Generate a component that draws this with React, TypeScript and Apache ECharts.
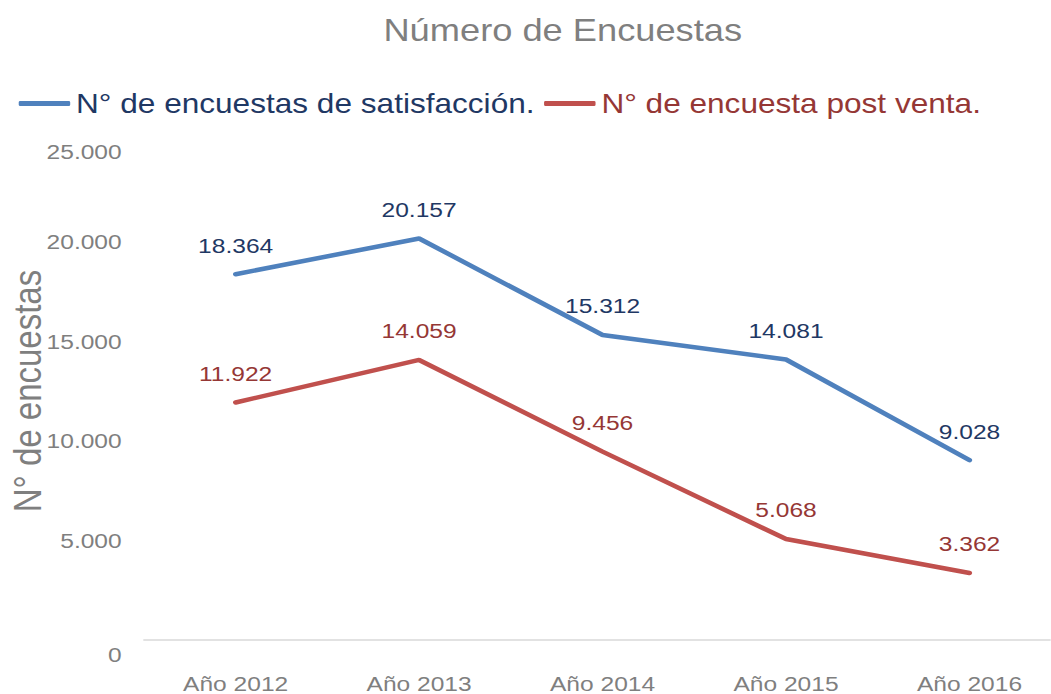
import React, { useEffect, useRef } from "react";
import * as echarts from "echarts";

const categories = ["Año 2012", "Año 2013", "Año 2014", "Año 2015", "Año 2016"];
const satisfaccion = [18364, 20157, 15312, 14081, 9028];
const postVenta = [11922, 14059, 9456, 5068, 3362];
const seriesNames = ["N° de encuestas de satisfacción.", "N° de encuesta post venta."];

const fmt = (v: number) => String(Math.round(v)).replace(/\B(?=(\d{3})+(?!\d))/g, ".");

const STRETCH = 1.17;
const W = Math.round(1051 / STRETCH);

export default function App() {
  const ref = useRef<HTMLDivElement>(null);
  useEffect(() => {
    const chart = echarts.init(ref.current!, null, { renderer: "svg" });
    const font = "'Liberation Sans', Arial, sans-serif";
    const label = (color: string) => ({
      show: true,
      position: "top",
      distance: 18,
      color,
      fontSize: 21,
      fontFamily: font,
      formatter: (p: any) => fmt(p.value),
    });
    chart.setOption({
      animation: false,
      textStyle: { fontFamily: font },
      title: {
        text: "Número de Encuestas",
        left: 476,
        textAlign: "center",
        top: 9,
        textStyle: { fontSize: 31, fontWeight: "normal", color: "#7f7f7f", fontFamily: font },
      },
      legend: {
        top: 85,
        left: 11,
        icon: "roundRect",
        itemWidth: 44,
        itemHeight: 5,
        itemGap: 8,
        data: [
          { name: seriesNames[0], textStyle: { color: "#1f3864" } },
          { name: seriesNames[1], textStyle: { color: "#953735" } },
        ],
        textStyle: { fontSize: 27, fontFamily: font },
      },
      grid: { left: 123, right: -9, top: 142, bottom: 54, outerBoundsMode: "none", containLabel: false },
      xAxis: {
        type: "category",
        data: categories,
        boundaryGap: true,
        offset: 18,
        axisLine: { lineStyle: { color: "#d9d9d9", width: 1.5 } },
        axisTick: { show: false },
        axisLabel: { color: "#7f7f7f", fontSize: 21, margin: 15, fontFamily: font },
      },
      yAxis: {
        type: "value",
        min: 0,
        max: 25000,
        interval: 5000,
        name: "N° de encuestas",
        nameLocation: "middle",
        nameGap: 83,
        nameMoveOverlap: false,
        nameTextStyle: { color: "#7f7f7f", fontSize: 33, fontFamily: font },
        axisLine: { show: false },
        axisTick: { show: false },
        splitLine: { show: false },
        axisLabel: {
          color: "#7f7f7f",
          fontSize: 21,
          margin: 19,
          fontFamily: font,
          formatter: (v: number) => (v === 0 ? "{z|0}" : v === 25000 ? "{t|" + fmt(v) + "}" : fmt(v)),
          rich: {
            z: { color: "#7f7f7f", fontSize: 21, fontFamily: font, padding: [30, 0, 0, 0] },
            t: { color: "#7f7f7f", fontSize: 21, fontFamily: font, padding: [20, 0, 0, 0] },
          },
        },
      },
      series: [
        {
          name: seriesNames[0],
          type: "line",
          data: satisfaccion,
          symbol: "circle",
          symbolSize: 1,
          showSymbol: true,
          lineStyle: { color: "#4f81bd", width: 4.5, cap: "round" },
          itemStyle: { color: "#4f81bd" },
          label: label("#1f3864"),
        },
        {
          name: seriesNames[1],
          type: "line",
          data: postVenta,
          symbol: "circle",
          symbolSize: 1,
          showSymbol: true,
          lineStyle: { color: "#c0504d", width: 4.5, cap: "round" },
          itemStyle: { color: "#c0504d" },
          label: label("#953735"),
        },
      ],
    });
    return () => chart.dispose();
  }, []);
  return (
    <div style={{ position: "absolute", left: 0, top: 0, width: 1051, height: 694, overflow: "hidden", background: "#fff" }}>
      <div
        ref={ref}
        style={{
          width: W,
          height: 694,
          transform: `scaleX(${STRETCH})`,
          transformOrigin: "0 0",
        }}
      />
    </div>
  );
}
